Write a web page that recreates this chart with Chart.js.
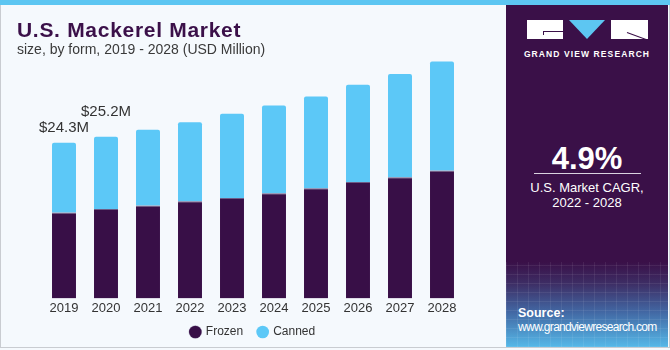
<!DOCTYPE html>
<html>
<head>
<meta charset="utf-8">
<script src="https://cdn.jsdelivr.net/npm/chart.js@4.4.0/dist/chart.umd.min.js"></script>
<style>
    html, body { margin: 0; padding: 0; }
    body { width: 670px; height: 350px; position: relative; overflow: hidden; background: #f5f9fd; font-family: "Liberation Sans", Arial, sans-serif; }
    .topStrip { position: absolute; left: 0; top: 0; width: 670px; height: 5px; background: #5dc6f2; }
    .frame { position: absolute; left: 0; top: 5px; width: 670px; height: 343px; border-left: 1px solid #c9ccd1; border-right: 1px solid #c9ccd1; border-bottom: 1px solid #c9ccd1; box-sizing: border-box; }
    .title { position: absolute; left: 17px; top: 18px; font-size: 21px; font-weight: bold; color: #3b1049; letter-spacing: 0.7px; }
    .subtitle { position: absolute; left: 17px; top: 41px; font-size: 14px; color: #3a3a3a; }
    #chartCanvas { position: absolute; left: 0; top: 0; }
    .panel { position: absolute; left: 506px; top: 5px; width: 162px; height: 342px; background: #3a1048; overflow: hidden; }
    .panelBottom { position: absolute; left: 0; bottom: 0; width: 100%; height: 85px;
        background:
            repeating-linear-gradient(90deg, rgba(255,255,255,0.07) 0 1px, transparent 1px 11px),
            repeating-linear-gradient(0deg, rgba(255,255,255,0.07) 0 1px, transparent 1px 9px),
            linear-gradient(180deg, #3a1048 0%, #3d2d64 25%, #4266a2 58%, #55b8e8 100%); }
    .logo { position: absolute; top: 15px; left: 21px; width: 121px; height: 19px; }
    .logo .blk { position: absolute; top: 0; height: 19px; background: #fff; }
    .logo .tri { position: absolute; top: 0; left: 42px; width: 0; height: 0; border-left: 18px solid transparent; border-right: 18px solid transparent; border-top: 19px solid #5dc6f2; }
    .logo .ln { position: absolute; background: #3a1048; }
    .brand { position: absolute; top: 44px; left: 0; width: 162px; text-align: center; color: #fff; font-size: 8.5px; font-weight: bold; letter-spacing: 1.1px; }
    .cagr { position: absolute; top: 136px; left: 0; width: 162px; text-align: center; color: #fff; font-size: 31px; font-weight: bold; }
    .rule { position: absolute; top: 168px; left: 28px; width: 107px; height: 1px; background: #d9d2e0; }
    .cagrText { position: absolute; top: 175px; left: 0; width: 162px; text-align: center; color: #fff; font-size: 13px; line-height: 15px; }
    .source { position: absolute; left: 12px; top: 301px; color: #fff; font-size: 12px; line-height: 14px; letter-spacing: -0.7px; }
    .source b { font-size: 12.5px; letter-spacing: 0; }
</style>
</head>
<body>
<div class="topStrip"></div>
<div class="frame"></div>
<canvas id="chartCanvas" width="506" height="350"></canvas>
<div class="title">U.S. Mackerel Market</div>
<div class="subtitle">size, by form, 2019 - 2028 (USD Million)</div>
<div class="panel">
    <div class="panelBottom"></div>
    <div class="logo">
        <div class="blk" style="left:0;width:36px;"></div>
        <div class="ln" style="left:16px;top:11px;width:20px;height:1px;"></div>
        <div class="ln" style="left:16px;top:11px;width:1px;height:4px;"></div>
        <div class="tri"></div>
        <div class="blk" style="left:84px;width:37px;"></div>
        <div class="ln" style="left:100px;top:12px;width:21px;height:1px;transform:rotate(20deg);transform-origin:left;"></div>
    </div>
    <div class="brand">GRAND VIEW RESEARCH</div>
    <div class="cagr">4.9%</div>
    <div class="rule"></div>
    <div class="cagrText">U.S. Market CAGR,<br>2022 - 2028</div>
    <div class="source"><b>Source:</b><br>www.grandviewresearch.com</div>
</div>
<script>
// Market size by form (USD Million)
const years = ['2019', '2020', '2021', '2022', '2023', '2024', '2025', '2026', '2027', '2028'];
const frozen = [13.4, 13.95, 14.5, 15.15, 15.65, 16.4, 17.2, 18.15, 18.9, 19.95];
const canned = [10.9, 11.25, 11.8, 12.35, 13.15, 13.7, 14.3, 15.2, 16.1, 17.0];
const totalLabels = ['$24.3M', '$25.2M'];
const labelOffsets = [15, 25];

const FROZEN_COLOR = '#380f47';
const CANNED_COLOR = '#5cc8f7';
const FONT = '"Liberation Sans", Arial, sans-serif';

// Draws the total labels above the first two bars
const totalLabelPlugin = {
    id: 'totalLabels',
    afterDatasetsDraw(chart) {
        const ctx = chart.ctx;
        const meta = chart.getDatasetMeta(1);
        ctx.save();
        ctx.font = '15px ' + FONT;
        ctx.fillStyle = '#333';
        ctx.textAlign = 'center';
        ctx.textBaseline = 'middle';
        totalLabels.forEach((txt, i) => {
            const bar = meta.data[i];
            ctx.fillText(txt, bar.x, bar.y - labelOffsets[i]);
        });
        ctx.restore();
    }
};

// Pulls the legend a bit closer to the year labels
const legendNudge = {
    id: 'legendNudge',
    afterLayout(chart) {
        chart.legend.top -= 7;
        chart.legend.bottom -= 7;
    }
};

new Chart(document.getElementById('chartCanvas'), {
    type: 'bar',
    data: {
        labels: years,
        datasets: [
            { label: 'Frozen', data: frozen, backgroundColor: FROZEN_COLOR, borderColor: '#6d5c86', borderWidth: { top: 1, left: 0, right: 0, bottom: 0 }, borderSkipped: 'bottom' },
            { label: 'Canned', data: canned, backgroundColor: CANNED_COLOR, borderWidth: 0, borderRadius: { topLeft: 2, topRight: 2 }, borderSkipped: 'bottom' }
        ]
    },
    options: {
        responsive: false,
        devicePixelRatio: 1,
        animation: false,
        layout: { padding: { left: 43, right: 43, top: 42, bottom: 0 } },
        datasets: { bar: { categoryPercentage: 1, barPercentage: 0.571 } },
        scales: {
            x: {
                stacked: true,
                grid: { display: false, drawTicks: false },
                border: { display: false },
                ticks: { color: '#333', font: { size: 13, family: FONT }, padding: 2 }
            },
            y: { stacked: true, display: false, min: 0, max: 40 }
        },
        plugins: {
            legend: {
                position: 'bottom',
                maxHeight: 32,
                labels: {
                    usePointStyle: true, pointStyle: 'circle', boxWidth: 9, boxHeight: 9,
                    padding: 15, color: '#333',
                    font: { size: 12, family: FONT }
                }
            },
            tooltip: { enabled: false }
        }
    },
    plugins: [totalLabelPlugin, legendNudge]
});
</script>
</body>
</html>
